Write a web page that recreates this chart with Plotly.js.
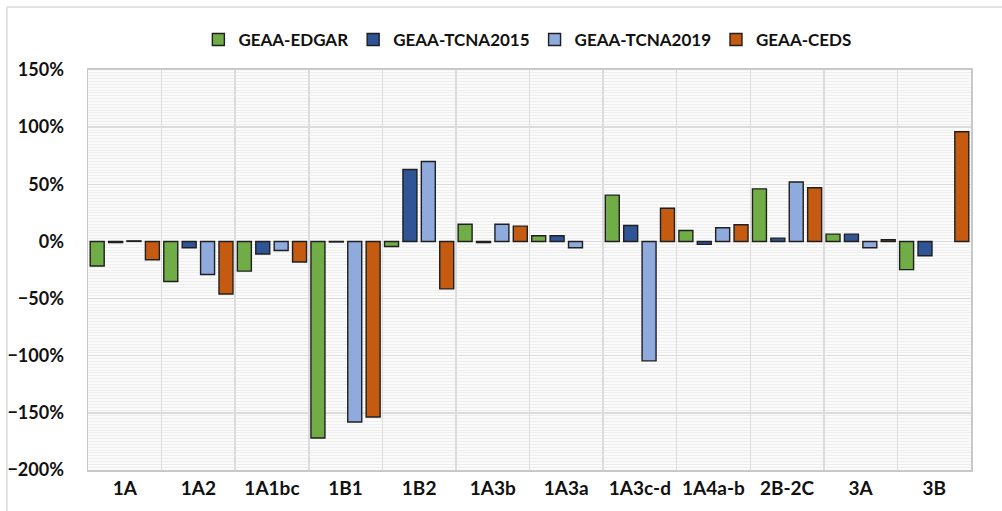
<!DOCTYPE html>
<html>
<head>
<meta charset="utf-8">
<script src="https://cdn.plot.ly/plotly-3.0.1.min.js"></script>
<style>html,body{margin:0;padding:0;background:#fff;}#chart{width:1002px;height:511px;}</style>
</head>
<body>
<div id="chart"></div>
<script>
const categories = ["1A","1A2","1A1bc","1B1","1B2","1A3b","1A3a","1A3c-d","1A4a-b","2B-2C","3A","3B"];
const edgar    = [-0.215, -0.35, -0.26, -1.72, -0.044, 0.15, 0.05, 0.405, 0.095, 0.46, 0.064, -0.247];
const tcna2015 = [-0.01, -0.055, -0.11, -0.005, 0.63, -0.01, 0.05, 0.14, -0.026, 0.029, 0.064, -0.125];
const tcna2019 = [0.005, -0.29, -0.08, -1.58, 0.70, 0.15, -0.055, -1.045, 0.12, 0.52, -0.055, null];
const ceds     = [-0.16, -0.46, -0.18, -1.536, -0.415, 0.134, null, 0.29, 0.146, 0.47, 0.015, 0.96];
const seriesNames = ["GEAA-EDGAR","GEAA-TCNA2015","GEAA-TCNA2019","GEAA-CEDS"];
const colors = ["#70AD47","#2F5597","#8FAADC","#C55A11"];
const yTicks = [-2, -1.5, -1, -0.5, 0, 0.5, 1, 1.5];

const font = "Lato, 'Open Sans', sans-serif";
const data = [edgar, tcna2015, tcna2019, ceds].map((vals, i) => ({
  type: "bar",
  name: seriesNames[i],
  x: categories,
  y: vals,
  marker: {color: colors[i], line: {color: "#1f1f1f", width: 1.4}},
  hoverinfo: "x+y+name"
}));

const layout = {
  width: 1002, height: 511,
  margin: {l: 88, r: 31, t: 70, b: 41, pad: 0, autoexpand: false},
  paper_bgcolor: "#ffffff",
  plot_bgcolor: "#fbfbfb",
  barmode: "group",
  bargap: 0,
  bargroupgap: 0.24,
  showlegend: true,
  legend: {
    orientation: "h", x: 0.125, xanchor: "left", y: 1.075, yanchor: "middle",
    bgcolor: "rgba(0,0,0,0)",
    font: {family: font, size: 17, color: "#111111", weight: "bold"},
    itemwidth: 30, traceorder: "normal"
  },
  font: {family: font, color: "#111111"},
  xaxis: {
    type: "category",
    tickson: "boundaries",
    showgrid: true, gridcolor: "#dcdcdc", gridwidth: 1.5,
    showline: true, linecolor: "#c8c8c8", linewidth: 2, mirror: true,
    ticks: "outside", ticklen: 12, tickcolor: "rgba(0,0,0,0)",
    tickfont: {family: font, size: 19, color: "#111111", weight: "bold"},
    fixedrange: true
  },
  yaxis: {
    range: [-2, 1.5],
    tickvals: yTicks,
    tickformat: ".0%",
    showgrid: true, gridcolor: "#dcdcdc", gridwidth: 1.5,
    zeroline: false,
    showline: true, linecolor: "#c8c8c8", linewidth: 1.5, mirror: true,
    ticks: "outside", ticklen: 19, tickcolor: "rgba(0,0,0,0)",
    tickfont: {family: font, size: 18, color: "#111111", weight: "bold"},
    minor: {dtick: 0.025, showgrid: true, gridcolor: "#eeeeee", gridwidth: 1, ticks: ""},
    fixedrange: true
  },
  shapes: [
    {type: "line", xref: "paper", yref: "paper", x0: -0.0918, x1: 1.1, y0: 1.1575, y1: 1.1575, line: {color: "#d9d9d9", width: 1.5}},
    {type: "line", xref: "paper", yref: "paper", x0: -0.0918, x1: -0.0918, y0: 1.1575, y1: -0.2, line: {color: "#d9d9d9", width: 1.5}}
  ]
};

Plotly.newPlot("chart", data, layout, {displayModeBar: false, staticPlot: true});
</script>
</body>
</html>
